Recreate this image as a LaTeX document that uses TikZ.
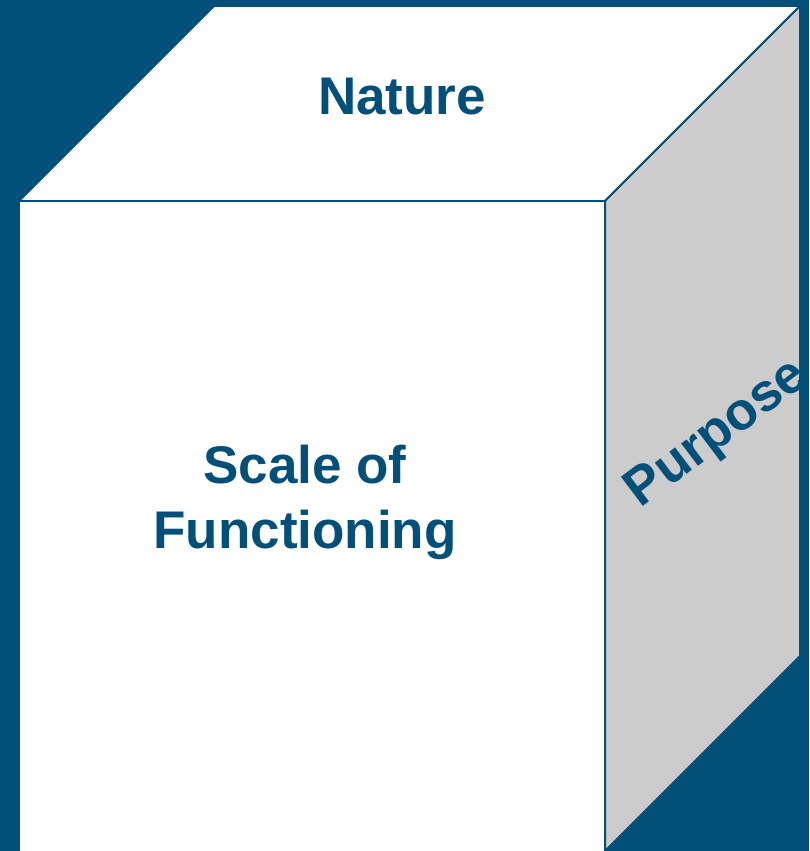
\documentclass[tikz,border=0pt]{standalone}
\usepackage{fontspec}
\setmainfont{Liberation Sans}
\usetikzlibrary{positioning}
\definecolor{cubeblue}{HTML}{024F7A}
\definecolor{sidegray}{HTML}{CCCCCC}
\tikzset{face/.style={draw=cubeblue, line width=2pt},
  facetext/.style={text=cubeblue, font=\fontsize{53}{65}\selectfont\bfseries, align=center}}

\begin{document}
\begin{tikzpicture}[x=1pt,y=-1pt]
  \fill[cubeblue] (0,0) rectangle (809,851);
  \useasboundingbox (0,0) rectangle (809,851);
  % top face
  \filldraw[face, fill=white] (19,201)--(214,6)--(800,6)--(605,201)--cycle;
  % side face
  \filldraw[face, fill=sidegray] (605,201)--(800,6)--(800,656)--(605,851)--cycle;
  % front face
  \filldraw[face, fill=white] (19,201) rectangle (605,860);
  \node[facetext] (nature) at (402,97) {Nature};
  \node[facetext] (scale) at (305,502) {Scale of\\Functioning};
  \begin{scope}
    \clip (605,201)--(800,6)--(800,656)--(605,851)--cycle;
    \node[facetext, rotate=37] (purpose) at (718,435) {Purpose};
  \end{scope}
\end{tikzpicture}
\end{document}
